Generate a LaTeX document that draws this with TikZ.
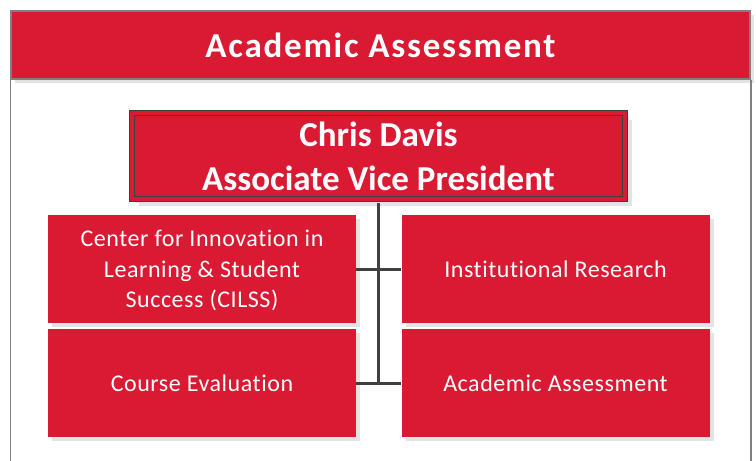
\documentclass[tikz,border=0pt]{standalone}
\usepackage{fontspec}
\setmainfont{Carlito}[Ligatures=NoCommon]
\newfontfamily\headfont{Carlito}[Ligatures=NoCommon,LetterSpace=5]
\newfontfamily\unitfont{Carlito}[Ligatures=NoCommon,LetterSpace=2.3]
\usetikzlibrary{shadows}
\usepackage{xcolor}
\definecolor{aared}{RGB}{218,26,51}
\definecolor{framegray}{RGB}{128,128,128}
\definecolor{linegray}{RGB}{64,64,64}
\definecolor{shadegray}{RGB}{227,227,227}
\tikzset{
  redbox/.style={rectangle,fill=aared,text=white,align=center,inner sep=0pt,
    general shadow={fill=shadegray,shadow xshift=4pt,shadow yshift=-4pt}},
  unit/.style={redbox,minimum width=308pt,minimum height=108pt,text depth=-7pt,
    font=\unitfont\fontsize{24}{30.5}\selectfont},
  link/.style={draw=linegray,line width=3pt}
}

\begin{document}
\begin{tikzpicture}[x=1pt,y=-1pt]
        \useasboundingbox (0,0) rectangle (756,461);

        \node [redbox,draw=framegray,line width=1.5pt,minimum width=739pt,minimum height=68pt,
               font=\headfont\fontsize{35}{44}\selectfont\bfseries] (title) at (380.5,45) {Academic Assessment};
        \draw[framegray,line width=1.5pt] (title.south west) -- (title.south west |- 0,461);
        \draw[framegray,line width=1.5pt] (title.south east) -- (title.south east |- 0,461);

        \node [redbox,draw=linegray,line width=1pt,double=aared,double distance=4pt,
               minimum width=493pt,minimum height=86pt,
               general shadow={fill=shadegray,shadow xshift=7pt,shadow yshift=-7pt},
               font=\fontsize{35}{44}\selectfont\bfseries] (avp) at (378.5,156) {Chris Davis\\Associate Vice President};

        \node [unit] (cilss) at (202,269) {Center for Innovation in\\Learning \& Student\\Success (CILSS)};
        \node [unit] (ir) at (555.5,269) {Institutional Research};
        \node [unit] (ce) at (202,383) {Course Evaluation};
        \node [unit] (aa) at (555.5,383) {Academic Assessment};

        \draw[link,shorten <=3pt] (avp.south) to (avp.south |- ce.east);
        \draw[link] (cilss) to (ir);
        \draw[link] (ce) to (aa);
\end{tikzpicture}
\end{document}
